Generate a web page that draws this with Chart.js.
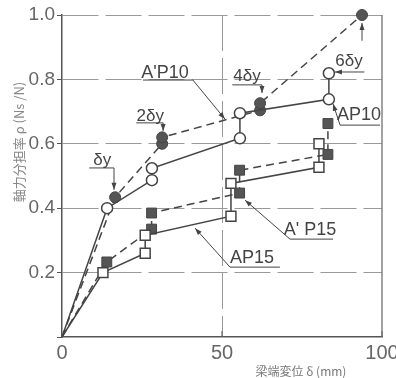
<!DOCTYPE html>
<html>
<head>
<meta charset="utf-8">
<script src="https://cdn.jsdelivr.net/npm/chart.js@4.4.1/dist/chart.umd.min.js"></script>
<style>
html,body{margin:0;padding:0;background:#fff;}
</style>
</head>
<body>
<canvas id="chart" width="396" height="378"></canvas>
<script>
// beam-end displacement (mm) vs axial force share ratio
const ap10X  = [0, 14.1, 28.1, 28.1, 55.6, 55.6, 83.4, 83.4];
const ap10Y  = [0, 0.40, 0.487, 0.524, 0.617, 0.695, 0.738, 0.819];
const apd10X = [0, 16.6, 31.3, 31.3, 61.9, 61.9, 93.75];
const apd10Y = [0, 0.434, 0.60, 0.62, 0.704, 0.726, 1.0];
const ap15X  = [0, 12.8, 26.0, 26.0, 52.8, 52.8, 80.3, 80.3];
const ap15Y  = [0, 0.20, 0.26, 0.316, 0.375, 0.477, 0.527, 0.60];
const apd15X = [0, 14.0, 28.0, 28.0, 55.5, 55.5, 83.1, 83.1];
const apd15Y = [0, 0.233, 0.335, 0.385, 0.447, 0.518, 0.567, 0.663];
const xTicks = [0, 50, 100];
const yTicks = [0.2, 0.4, 0.6, 0.8, 1.0];

const INK = '#444';

function pts(xs, ys){
    return xs.map((x, i) => ({x: x, y: ys[i]}));
}

// labels and leader lines, given in data units
const notes = [
    {text:"A'P10", at:[32.2, 0.82],  size:18, path:[[25.3,0.798],[40.9,0.798],[50.9,0.677]]},
    {text:"2δy",   at:[27.6, 0.685], size:17, path:[[23.2,0.665],[31.6,0.665],[31.6,0.64]]},
    {text:"δy",    at:[12.6, 0.550], size:17, path:[[8.5,0.525],[16.25,0.525],[16.25,0.457]]},
    {text:"4δy",   at:[57.8, 0.809], size:17, path:[[53.2,0.783],[62.5,0.783],[62.5,0.758]]},
    {text:"6δy",   at:[89.7, 0.857], size:17, path:[[94.5,0.823],[85.3,0.823]]},
    {text:"AP10",  at:[92.8, 0.689], size:18, path:[[99.4,0.658],[86.9,0.658],[84.7,0.724]]},
    {text:"A' P15",at:[77.5, 0.332], size:18, path:[[84.7,0.304],[71.25,0.304],[57.2,0.425]]},
    {text:"AP15",  at:[59.4, 0.245], size:18, path:[[68.1,0.217],[52.5,0.217],[41.6,0.338]]},
    {text:"",      at:[0, 0],        size:1,  path:[[93.75,0.92],[93.75,0.975]]}
];

function arrowHead(ctx, x1, y1, x2, y2){
    const a = Math.atan2(y2 - y1, x2 - x1);
    const L = 7, W = 2.5;
    ctx.beginPath();
    ctx.moveTo(x2, y2);
    ctx.lineTo(x2 - L*Math.cos(a) + W*Math.sin(a), y2 - L*Math.sin(a) - W*Math.cos(a));
    ctx.lineTo(x2 - L*Math.cos(a) - W*Math.sin(a), y2 - L*Math.sin(a) + W*Math.cos(a));
    ctx.closePath();
    ctx.fill();
}

const extras = {
    id:'extras',
    afterDraw(chart){
        const ctx = chart.ctx;
        const sx = chart.scales.x, sy = chart.scales.y;
        const area = chart.chartArea;
        ctx.save();
        // right frame at x = 100
        ctx.strokeStyle = '#666';
        ctx.lineWidth = 1.2;
        ctx.beginPath();
        ctx.moveTo(sx.getPixelForValue(100), area.top);
        ctx.lineTo(sx.getPixelForValue(100), area.bottom);
        ctx.stroke();
        // small inward ticks on the x axis
        [50, 100].forEach(v => {
            const px = sx.getPixelForValue(v);
            ctx.beginPath();
            ctx.moveTo(px, area.bottom);
            ctx.lineTo(px, area.bottom - 6);
            ctx.stroke();
        });

        // annotations
        ctx.strokeStyle = INK;
        ctx.fillStyle = INK;
        ctx.lineWidth = 1;
        notes.forEach(n => {
            const p = n.path.map(q => [sx.getPixelForValue(q[0]), sy.getPixelForValue(q[1])]);
            ctx.beginPath();
            ctx.moveTo(p[0][0], p[0][1]);
            for (let i = 1; i < p.length; i++) ctx.lineTo(p[i][0], p[i][1]);
            ctx.stroke();
            const e = p.length - 1;
            arrowHead(ctx, p[e-1][0], p[e-1][1], p[e][0], p[e][1]);
            if (n.text){
                ctx.font = n.size + 'px "Liberation Sans", Arial, sans-serif';
                ctx.textAlign = 'center';
                ctx.textBaseline = 'middle';
                ctx.fillText(n.text, sx.getPixelForValue(n.at[0]), sy.getPixelForValue(n.at[1]));
            }
        });

        // axis titles
        ctx.fillStyle = '#888';
        ctx.font = '13px "Noto Sans CJK JP", sans-serif';
        ctx.textAlign = 'center';
        ctx.textBaseline = 'middle';
        ctx.save();
        ctx.translate(19, 142);
        ctx.rotate(-Math.PI / 2);
        ctx.fillText('軸力分担率 ρ (Ns /N)', 0, 0);
        ctx.restore();
        ctx.fillStyle = '#777';
        ctx.font = '12px "Noto Sans CJK JP", sans-serif';
        ctx.fillText('梁端変位 δ (mm)', 301, 371);
        ctx.restore();
    }
};

const ctx = document.getElementById('chart').getContext('2d');

new Chart(ctx, {
    type:'scatter',
    data:{
        datasets:[
            {
                label:'AP10',
                data: pts(ap10X, ap10Y),
                showLine:true,
                borderColor:INK,
                borderWidth:1.5,
                pointStyle:'circle',
                pointRadius: c => c.dataIndex === 0 ? 0 : 5.5,
                pointBackgroundColor:'#fff',
                pointBorderColor:INK,
                pointBorderWidth:1.5
            },
            {
                label:"A'P10",
                data: pts(apd10X, apd10Y),
                showLine:true,
                clip:false,
                borderColor:INK,
                borderWidth:1.5,
                borderDash:[8, 5],
                pointStyle:'circle',
                pointRadius: c => c.dataIndex === 0 ? 0 : 5.5,
                pointBackgroundColor:'#555',
                pointBorderColor:'#444',
                pointBorderWidth:1
            },
            {
                label:'AP15',
                data: pts(ap15X, ap15Y),
                showLine:true,
                borderColor:INK,
                borderWidth:1.5,
                pointStyle:'rect',
                pointRadius: c => c.dataIndex === 0 ? 0 : 7,
                pointBackgroundColor:'#fff',
                pointBorderColor:INK,
                pointBorderWidth:1.5
            },
            {
                label:"A'P15",
                data: pts(apd15X, apd15Y),
                showLine:true,
                borderColor:INK,
                borderWidth:1.5,
                borderDash:[8, 5],
                pointStyle:'rect',
                pointRadius: c => c.dataIndex === 0 ? 0 : 7,
                pointBackgroundColor:'#555',
                pointBorderColor:'#444',
                pointBorderWidth:1
            }
        ]
    },
    options:{
        responsive:false,
        animation:false,
        layout:{ padding:{ top:15, right:14, left:0, bottom:0 } },
        plugins:{
            legend:{ display:false },
            tooltip:{ enabled:false }
        },
        scales:{
            x:{
                type:'linear',
                min:0, max:100,
                afterBuildTicks: s => { s.ticks = xTicks.map(v => ({value:v})); },
                afterFit: s => { s.height = 41; s.paddingLeft = 0; s.paddingRight = 0; },
                ticks:{
                    padding:4,
                    color:'#666',
                    font:{ family:'"Liberation Sans", Arial, sans-serif', size:20 },
                    callback: v => String(v)
                },
                grid:{
                    drawTicks:false,
                    color: c => (c.tick && c.tick.value === 50) ? '#999' : 'rgba(0,0,0,0)',
                    lineWidth:1
                },
                border:{ color:'#555', width:1.5, dash:[36, 7] }
            },
            y:{
                type:'linear',
                min:0, max:1.0,
                afterBuildTicks: s => { s.ticks = [0].concat(yTicks).map(v => ({value:v})); },
                afterFit: s => { s.width = 62; },
                ticks:{
                    padding:2,
                    color:'#666',
                    font:{ family:'"Liberation Sans", Arial, sans-serif', size:19 },
                    callback: v => v === 0 ? '' : v.toFixed(1)
                },
                grid:{
                    drawTicks:true,
                    tickLength:5,
                    color: c => (c.tick && c.tick.value === 0) ? 'rgba(0,0,0,0)' : '#999',
                    tickColor:'#555',
                    lineWidth:1
                },
                border:{ color:'#555', width:1.5, dash:[36, 7] }
            }
        }
    },
    plugins:[extras]
});
</script>
</body>
</html>
